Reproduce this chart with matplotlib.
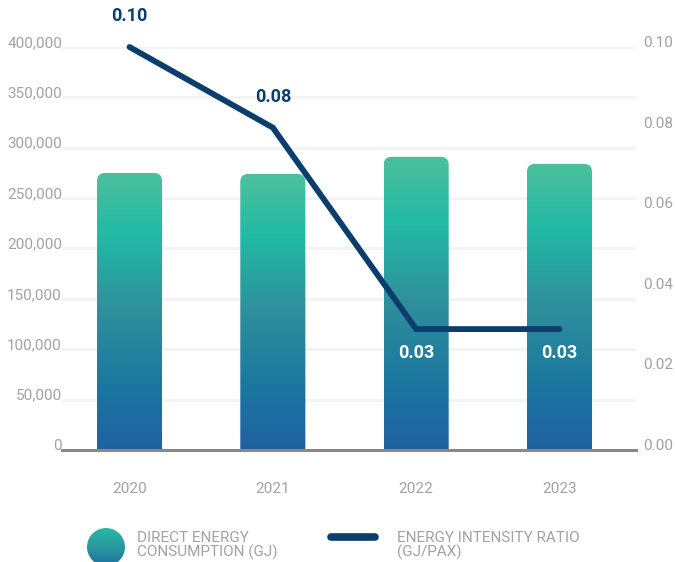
import numpy as np
import matplotlib.pyplot as plt
from matplotlib.path import Path
from matplotlib.patches import PathPatch, Circle
from matplotlib.colors import LinearSegmentedColormap
from matplotlib.ticker import FuncFormatter

plt.rcParams['font.family'] = ['Roboto', 'DejaVu Sans']

years = ['2020', '2021', '2022', '2023']
consumption = [275000, 274000, 291000, 284000]   # GJ
intensity = [0.10, 0.08, 0.03, 0.03]             # GJ/PAX
intensity_labels = ['0.10', '0.08', '0.03', '0.03']
left_ticks = [0, 50000, 100000, 150000, 200000, 250000, 300000, 350000, 400000]
right_ticks = [0.00, 0.02, 0.04, 0.06, 0.08, 0.10]

navy = '#0b3d6d'
tick_grey = '#a2a2a2'
bar_cmap = LinearSegmentedColormap.from_list(
    'bars', [(0.0, '#4cc09c'), (0.22, '#22bba6'), (0.5, '#2f8f9b'),
             (0.78, '#1b76a0'), (1.0, '#2161a2')])
dot_cmap = LinearSegmentedColormap.from_list('dot', ['#25bba5', '#2a9a9e', '#1e70a0'])


def top_rounded(x0, x1, y0, y1, rx, ry):
    verts = [(x0, y0), (x0, y1 - ry), (x0, y1), (x0 + rx, y1),
             (x1 - rx, y1), (x1, y1), (x1, y1 - ry), (x1, y0), (x0, y0)]
    codes = [Path.MOVETO, Path.LINETO, Path.CURVE3, Path.CURVE3,
             Path.LINETO, Path.CURVE3, Path.CURVE3, Path.LINETO, Path.CLOSEPOLY]
    return Path(verts, codes)


fig = plt.figure(figsize=(6.75, 5.62), dpi=100)
ax = fig.add_axes([62 / 675, 112 / 562, 574 / 675, 403 / 562])
xlim = (-0.471, 3.534)

grad = np.linspace(0, 1, 256).reshape(-1, 1)
x = np.arange(len(years))
width = 0.454
# corner radius of roughly 8 px expressed in data units
rx = 8 * (xlim[1] - xlim[0]) / 574
ry = 8 * 400000 / 403
for xi, val in zip(x, consumption):
    x0, x1 = xi - width / 2, xi + width / 2
    im = ax.imshow(grad, cmap=bar_cmap, aspect='auto', origin='upper',
                   extent=(x0, x1, 0, val), zorder=2)
    clip = PathPatch(top_rounded(x0, x1, 0, val, rx, ry), transform=ax.transData)
    im.set_clip_path(clip)
ax.set_xlim(*xlim)
ax.set_ylim(0, 400000)

ax.set_yticks(left_ticks)
ax.yaxis.set_major_formatter(FuncFormatter(lambda v, p: f'{int(v):,}'))
ax.set_xticks(x)
ax.set_xticklabels(years)
ax.grid(axis='y', color='#f3f3f3', linewidth=2, zorder=0)
ax.set_axisbelow(True)
for s in ['top', 'right', 'left']:
    ax.spines[s].set_visible(False)
ax.spines['bottom'].set_color('#888888')
ax.spines['bottom'].set_linewidth(2.2)
ax.spines['bottom'].set_zorder(5)
ax.tick_params(axis='y', length=0, pad=0, labelsize=11, labelcolor=tick_grey)
ax.tick_params(axis='x', length=0, pad=23, labelsize=11, labelcolor=tick_grey)
for lab in ax.get_yticklabels():
    lab.set_verticalalignment('baseline')

ax2 = ax.twinx()
ax2.set_ylim(0, 0.10)
ax2.set_yticks(right_ticks)
ax2.yaxis.set_major_formatter(FuncFormatter(lambda v, p: f'{v:.2f}'))
ax2.tick_params(axis='y', length=0, pad=5, labelsize=11, labelcolor=tick_grey)
for lab in ax2.get_yticklabels():
    lab.set_verticalalignment('baseline')
for s in ax2.spines.values():
    s.set_visible(False)

ax2.plot(x, intensity, color=navy, lw=4.2, solid_capstyle='round',
         solid_joinstyle='miter', zorder=4, clip_on=False)
for i, (xi, v, t) in enumerate(zip(x, intensity, intensity_labels)):
    if i < 2:
        ax2.annotate(t, (xi, v), xytext=(0, 22), textcoords='offset points',
                     ha='center', va='center', fontsize=13, fontweight='bold',
                     color=navy, annotation_clip=False)
    else:
        ax2.annotate(t, (xi, v), xytext=(0, -17), textcoords='offset points',
                     ha='center', va='center', fontsize=13, fontweight='bold',
                     color='white', annotation_clip=False)

# legend drawn in pixel space along the bottom of the figure
lg = fig.add_axes([0, 0, 1, 80 / 562])
lg.set_xlim(0, 675)
lg.set_ylim(0, 80)
lg.axis('off')
dot = lg.imshow(grad, cmap=dot_cmap, aspect='auto', origin='upper',
                extent=(87, 125, -4, 34))
dot.set_clip_path(Circle((106, 15), 19, transform=lg.transData))
lg.plot([331, 375], [25, 25], color=navy, lw=5.5, solid_capstyle='round')
lg.text(137, 31, 'DIRECT ENERGY\nCONSUMPTION (GJ)', ha='left', va='top',
        fontsize=11, color=tick_grey, linespacing=0.98)
lg.text(397, 31, 'ENERGY INTENSITY RATIO\n(GJ/PAX)', ha='left', va='top',
        fontsize=11, color=tick_grey, linespacing=0.98)

fig.savefig('out.png', dpi=100)
